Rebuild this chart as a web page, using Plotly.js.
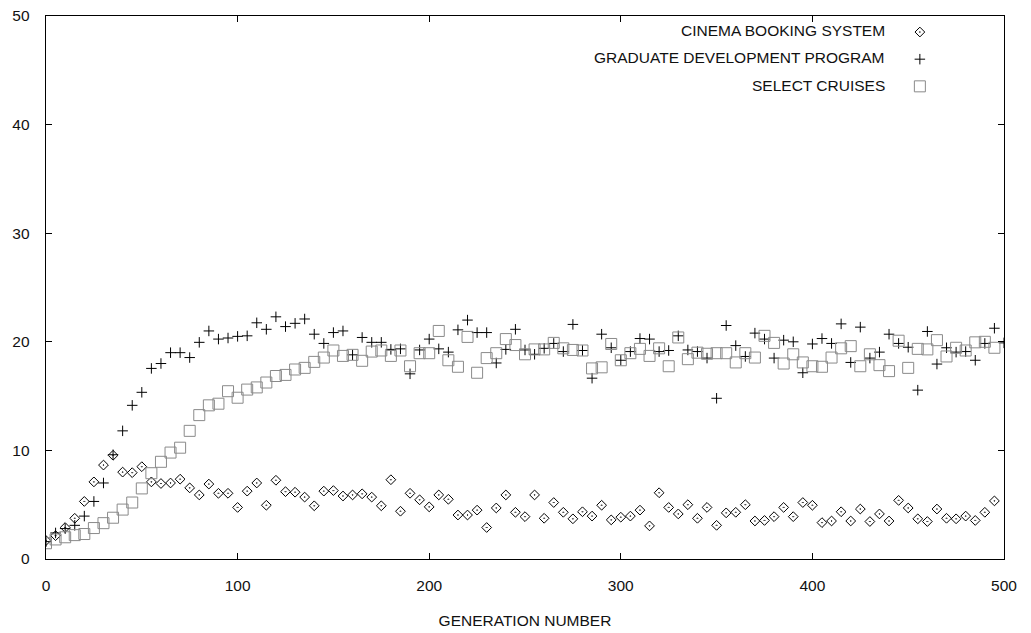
<!DOCTYPE html>
<html>
<head>
<meta charset="utf-8">
<script src="https://cdn.plot.ly/plotly-3.0.1.min.js"></script>
<style>
  html, body { margin: 0; padding: 0; background: #fff; }
  #chart { width: 1031px; height: 633px; }
</style>
</head>
<body>
<div id="chart"></div>
<script>
// Generation numbers at which the fitness was sampled
const generations = [
  0, 5, 10, 15, 20, 25, 30, 35, 40, 45,
  50, 55, 60, 65, 70, 75, 80, 85, 90, 95,
  100, 105, 110, 115, 120, 125, 130, 135, 140, 145,
  150, 155, 160, 165, 170, 175, 180, 185, 190, 195,
  200, 205, 210, 215, 220, 225, 230, 235, 240, 245,
  250, 255, 260, 265, 270, 275, 280, 285, 290, 295,
  300, 305, 310, 315, 320, 325, 330, 335, 340, 345,
  350, 355, 360, 365, 370, 375, 380, 385, 390, 395,
  400, 405, 410, 415, 420, 425, 430, 435, 440, 445,
  450, 455, 460, 465, 470, 475, 480, 485, 490, 495,
  500
];

const seriesNames = ["CINEMA BOOKING SYSTEM", "GRADUATE DEVELOPMENT PROGRAM", "SELECT CRUISES"];

const cinemaBooking = [
  1.7, 2.15, 2.9, 3.75, 5.3, 7.1, 8.65, 9.55, 8.0, 7.95,
  8.5, 7.1, 6.95, 7.0, 7.35, 6.55, 5.9, 6.9, 6.05, 6.05,
  4.75, 6.25, 7.0, 4.95, 7.25, 6.2, 6.15, 5.7, 4.9, 6.25,
  6.3, 5.8, 5.9, 6.0, 5.7, 4.9, 7.3, 4.4, 6.05, 5.45,
  4.8, 5.9, 5.5, 4.05, 4.05, 4.5, 2.9, 4.7, 5.9, 4.3,
  3.9, 5.9, 3.75, 5.2, 4.3, 3.7, 4.35, 3.95, 4.95, 3.6,
  3.85, 3.95, 4.5, 3.05, 6.1, 4.75, 4.15, 5.0, 3.75, 4.75,
  3.1, 4.25, 4.3, 5.0, 3.5, 3.55, 3.9, 4.75, 3.9, 5.2,
  4.95, 3.35, 3.5, 4.35, 3.5, 4.6, 3.45, 4.15, 3.5, 5.4,
  4.7, 3.7, 3.45, 4.6, 3.75, 3.7, 3.95, 3.55, 4.3, 5.35,
  null
];

const graduateProgram = [
  1.6, 2.4, 2.8, 3.1, 3.95, 5.3, 7.0, 9.6, 11.8, 14.15,
  15.35, 17.55, 18.0, 19.0, 19.0, 18.55, 19.95, 21.0, 20.25, 20.35,
  20.5, 20.55, 21.75, 21.15, 22.3, 21.4, 21.7, 22.1, 20.7, 19.85,
  20.85, 21.0, 18.8, 20.4, 19.95, 19.95, 19.3, 19.35, 17.05, 19.25,
  20.25, 19.35, 19.05, 21.1, 22.0, 20.85, 20.85, 18.05, 19.3, 21.15,
  19.25, 18.85, 19.4, 19.85, 19.1, 21.6, 19.2, 16.65, 20.7, 19.45,
  18.3, 19.1, 20.3, 20.25, 19.1, 19.2, 20.55, 19.25, 19.1, 18.5,
  14.8, 21.5, 19.65, 18.65, 20.8, 20.25, 18.5, 20.15, 20.0, 17.15,
  19.8, 20.3, 19.85, 21.65, 18.1, 21.35, 18.5, 19.05, 20.7, 19.85,
  19.5, 15.55, 20.95, 17.95, 19.45, 19.05, 19.1, 18.3, 19.85, 21.25,
  19.9
];

const selectCruises = [
  1.45, 1.8, 2.0, 2.2, 2.3, 2.85, 3.3, 3.8, 4.55, 5.2,
  6.5, 7.9, 8.95, 9.8, 10.25, 11.8, 13.25, 14.15, 14.3, 15.45,
  14.85, 15.6, 15.8, 16.25, 16.85, 16.95, 17.45, 17.6, 18.15, 18.55,
  19.2, 18.7, 18.8, 18.25, 19.1, 19.2, 18.7, 19.2, 17.75, 18.95,
  18.95, 21.0, 18.3, 17.7, 20.45, 17.15, 18.5, 18.95, 20.25, 19.7,
  18.85, 19.3, 19.3, 19.9, 19.4, 19.25, 19.2, 17.55, 17.65, 19.8,
  18.3, 18.95, 19.35, 18.7, 19.4, 17.75, 20.4, 18.4, 19.0, 18.9,
  18.95, 18.95, 18.1, 18.95, 18.55, 20.55, 19.9, 18.0, 18.85, 18.1,
  17.75, 17.7, 18.55, 19.4, 19.6, 17.75, 18.85, 17.85, 17.3, 20.1,
  17.6, 19.35, 19.3, 20.15, 18.65, 19.45, 19.2, 19.95, 20.0, 19.45,
  null
];

const xTicks = [0, 100, 200, 300, 400, 500];
const yTicks = [0, 10, 20, 30, 40, 50];

const FONT = '"Liberation Sans", Arial, Helvetica, sans-serif';

function series(values, idx, symbol, size, color) {
  return {
    type: 'scatter',
    mode: 'markers',
    x: generations,
    y: values,
    name: ' ',
    legendgroup: 'g' + idx,
    hovertemplate: seriesNames[idx] + '<br>%{x}: %{y}<extra></extra>',
    marker: {
      symbol: symbol,
      size: size,
      color: color,
      line: { color: color, width: 1 }
    },
    cliponaxis: true
  };
}

const traces = [
  series(cinemaBooking, 0, 'diamond-open-dot', 7.5, '#000000'),
  series(graduateProgram, 1, 'cross-thin-open', 7.5, '#000000'),
  series(selectCruises, 2, 'square-open', 11, '#8a8a8a')
];

const axisBase = {
  showgrid: false,
  zeroline: false,
  showline: true,
  linecolor: '#000',
  linewidth: 1.3,
  mirror: 'ticks',
  ticks: 'inside',
  ticklen: 6,
  tickwidth: 1,
  tickcolor: '#000',
  tickfont: { family: FONT, size: 15.5, color: '#111' }
};

const legendLabels = seriesNames.map((t, i) => ({
  text: t,
  xref: 'paper', yref: 'paper',
  x: 0.8779, y: [0.9724, 0.9227, 0.8729][i],
  xanchor: 'right', yanchor: 'middle',
  showarrow: false,
  font: { family: FONT, size: 15.5, color: '#111' }
}));

const layout = {
  width: 1031,
  height: 633,
  margin: { l: 46, r: 27, t: 16, b: 74 },
  paper_bgcolor: '#fff',
  plot_bgcolor: '#fff',
  showlegend: true,
  legend: {
    x: 0.8913, y: 1.001, xanchor: 'left', yanchor: 'top',
    bgcolor: 'rgba(0,0,0,0)',
    traceorder: 'grouped',
    tracegroupgap: 4,
    font: { family: FONT, size: 15.5, color: '#111' },
    itemclick: false, itemdoubleclick: false
  },
  xaxis: Object.assign({}, axisBase, {
    range: [0, 500],
    tickvals: xTicks,
    ticklabelstandoff: 12,
    title: { text: 'GENERATION NUMBER', font: { family: FONT, size: 15.5, color: '#111' }, standoff: 22 }
  }),
  yaxis: Object.assign({}, axisBase, {
    range: [0, 50],
    tickvals: yTicks,
    ticklabelstandoff: 12
  }),
  annotations: legendLabels
};

Plotly.newPlot('chart', traces, layout, { displayModeBar: false, staticPlot: true });
</script>
</body>
</html>
